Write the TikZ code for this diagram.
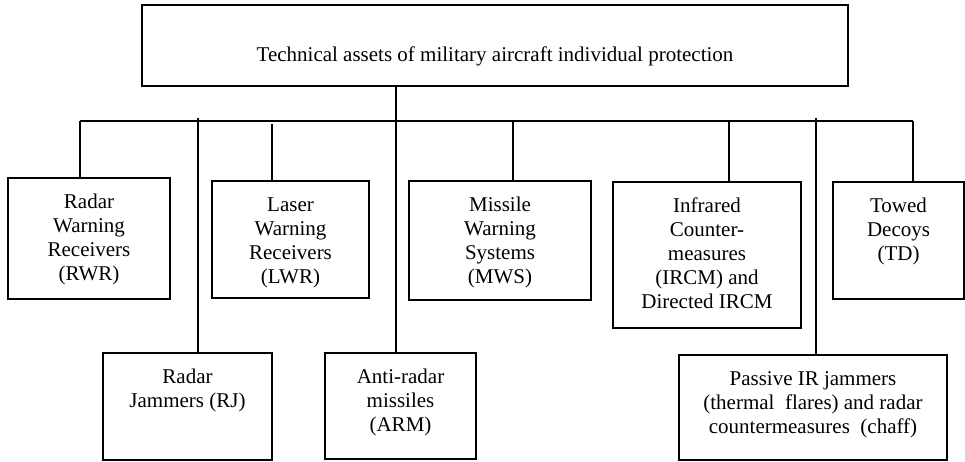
\documentclass[tikz,border=0pt]{standalone}
\usepackage{fontspec}
\setmainfont{Liberation Serif}
\newcommand{\bxt}[4]{\parbox[c][#2][t]{#1}{\centering\vspace*{#3}\strut #4\par}}
\tikzset{
  box/.style={draw, line width=2.1pt, inner sep=0pt, outer sep=0pt, anchor=north west,
    font=\fontsize{21}{24}\selectfont},
  link/.style={line width=2.1pt}
}
\begin{document}
\begin{tikzpicture}[x=1pt,y=-1pt]
\useasboundingbox (0,0) rectangle (965,461);
% boxes
\node[box] (top) at (142,5) {\bxt{706pt}{81pt}{40pt}{Technical assets of military aircraft individual protection}};
\node[box] (rwr) at (8,178) {\bxt{162pt}{121pt}{14pt}{Radar\\Warning\\Receivers\\(RWR)}};
\node[box] (lwr) at (212,181) {\bxt{157pt}{117pt}{14pt}{Laser\\Warning\\Receivers\\(LWR)}};
\node[box] (mws) at (409,181) {\bxt{182pt}{119pt}{14pt}{Missile\\Warning\\Systems\\(MWS)}};
\node[box] (ircm) at (613,182) {\bxt{188pt}{146pt}{14pt}{Infrared\\Counter-\\measures\\(IRCM) and\\Directed IRCM}};
\node[box] (td) at (833,182) {\bxt{131pt}{117pt}{14pt}{Towed\\Decoys\\(TD)}};
\node[box] (rj) at (103,353) {\bxt{169pt}{107pt}{14pt}{Radar\\Jammers (RJ)}};
\node[box] (arm) at (325,353) {\bxt{151pt}{106pt}{14pt}{Anti-radar\\missiles\\(ARM)}};
\node[box] (pas) at (679,355) {\bxt{268pt}{105pt}{14pt}{Passive IR jammers\\(thermal\ \ flares) and radar\\countermeasures\ \ (chaff)}};
% coordinates of connector lines
\coordinate (busL) at (80,121);
\coordinate (busR) at (913,121);
\coordinate (xtrunk) at (396,0);
\coordinate (xlwr) at (272,124);
\coordinate (xmws) at (513,0);
\coordinate (xircm) at (729,0);
\coordinate (xpas) at (816,118);
\coordinate (rjtop) at (198,118);
% connectors
\draw[link] (top.south -| xtrunk) -- (arm.north -| xtrunk);
\draw[link] (busL) -- (busR);
\draw[link] (busL) -- (rwr.north -| busL);
\draw[link] (rjtop) -- (rj.north -| rjtop);
\draw[link] (xlwr) -- (lwr.north -| xlwr);
\draw[link] (busL -| xmws) -- (mws.north -| xmws);
\draw[link] (busL -| xircm) -- (ircm.north -| xircm);
\draw[link] (xpas) -- (pas.north -| xpas);
\draw[link] (busR) -- (td.north -| busR);
\end{tikzpicture}
\end{document}
